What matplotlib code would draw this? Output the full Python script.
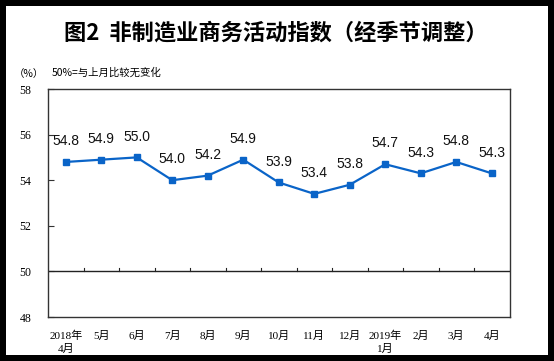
import matplotlib
matplotlib.use("Agg")
import matplotlib.pyplot as plt
from matplotlib.patches import Rectangle

plt.rcParams['font.family'] = ['Liberation Sans', 'Noto Sans CJK SC', 'DejaVu Sans']

months = ["2018年\n4月", "5月", "6月", "7月", "8月", "9月", "10月", "11月",
          "12月", "2019年\n1月", "2月", "3月", "4月"]
index = [54.8, 54.9, 55.0, 54.0, 54.2, 54.9, 53.9, 53.4, 53.8, 54.7, 54.3, 54.8, 54.3]
yticks = [48, 50, 52, 54, 56, 58]

W, H = 554, 361
fig = plt.figure(figsize=(W / 100, H / 100), dpi=100, facecolor='black')
# white inner panel inside the black frame
fig.add_artist(Rectangle((6 / W, 6 / H), (W - 12) / W, (H - 12) / H,
                         transform=fig.transFigure, facecolor='white',
                         edgecolor='none', zorder=-10))

ax = fig.add_axes([48 / W, 44 / H, 461.5 / W, 228 / H])
x = list(range(len(months)))

ax.plot(x, index, color='#0a64c8', lw=1.6, marker='s', ms=4.5, zorder=3)
for xi, v in zip(x, index):
    ax.annotate(f"{v:.1f}", (xi, v), xytext=(0, 15), textcoords='offset points',
                ha='center', va='center', fontsize=10, color='#111111',
                family=['Liberation Sans'])

ax.set_xlim(-0.5, len(months) - 0.5)
ax.set_ylim(48, 58)
ax.set_yticks(yticks)
ax.set_yticklabels([str(t) for t in yticks], family=['Liberation Serif'], fontsize=8.5)
ax.tick_params(axis='y', direction='in', length=4, width=0.8, color='#333333', pad=12)

# x labels at the bottom, no ticks there
ax.set_xticks(x)
ax.set_xticklabels(months, family=['Liberation Serif', 'Noto Sans CJK SC'],
                   fontsize=8, linespacing=1.3)
ax.tick_params(axis='x', length=0, pad=10)
for lbl in ax.get_xticklabels():
    lbl.set_verticalalignment('top')

# 50 line with small upward ticks between months
ax.axhline(50, color='#222222', lw=1.0, zorder=2)
for b in range(1, len(months)):
    ax.plot([b - 0.5, b - 0.5], [50, 50.15], color='#222222', lw=0.8, zorder=2)

for s in ax.spines.values():
    s.set_color('#333333')
    s.set_linewidth(1.0)

fig.text(0.497, 1 - 33 / H, "图2  非制造业商务活动指数（经季节调整）", ha='center', va='center',
         fontsize=16, fontweight='bold', family=['Noto Sans CJK SC'])
fig.text(14 / W, 1 - 74 / H, "（%）", ha='left', va='center', fontsize=7.5,
         family=['Noto Sans CJK SC'])
fig.text(52 / W, 1 - 73 / H, "50%=与上月比较无变化", ha='left', va='center', fontsize=7.5,
         family=['Noto Sans CJK SC'])

fig.savefig("out.png", dpi=100, facecolor=fig.get_facecolor())
